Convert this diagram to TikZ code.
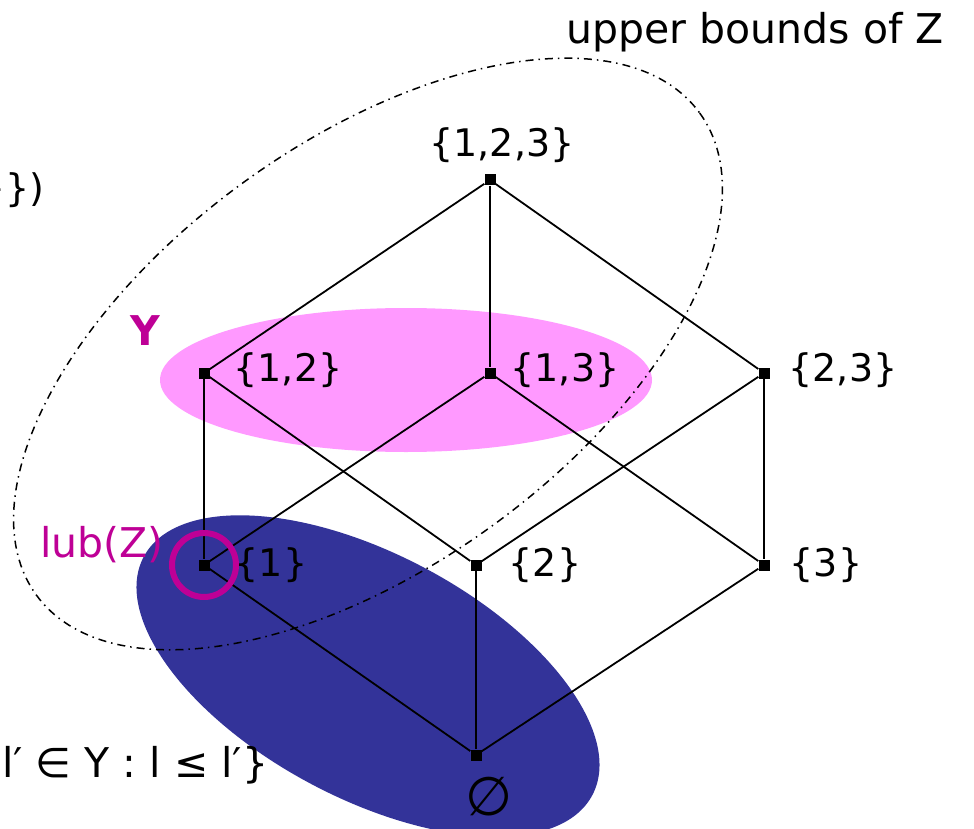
\documentclass[tikz,border=0pt]{standalone}
\usepackage{fontspec}
\setmainfont{DejaVu Sans}
\definecolor{ypink}{RGB}{255,153,255}
\definecolor{znavy}{RGB}{51,51,153}
\definecolor{lubmag}{RGB}{190,0,150}
\begin{document}
\begin{tikzpicture}[x=1pt, y=-1pt,
  elem/.style={fill=black, rectangle, minimum size=11pt, inner sep=0pt},
  setlbl/.style={font=\fontsize{38}{42}\selectfont, inner sep=0pt},
  wordlbl/.style={font=\fontsize{41}{46}\selectfont, inner sep=0pt},
  cover/.style={line width=1.8pt}]
  \useasboundingbox (0,0) rectangle (974,829);
  \clip (0,0) rectangle (974,829);

  % Y and the lower set
  \fill[ypink] (406,380) ellipse [x radius=246, y radius=72];
  \fill[znavy, rotate around={-28:(368,676)}] (368,676) ellipse [x radius=254, y radius=122];

  % upper bounds of Z
  \draw[line width=1.5pt, dash pattern=on 8pt off 5pt on 1.5pt off 5pt, rotate around={36:(368,354)}]
    (368,354) ellipse [x radius=410, y radius=212];

  % lattice elements
  \node[elem] (s123) at (490,180) {};
  \node[elem] (s12) at (204,373) {};
  \node[elem] (s13) at (490,373) {};
  \node[elem] (s23) at (764,373) {};
  \node[elem] (s1) at (204,565) {};
  \node[elem] (s2) at (476,565) {};
  \node[elem] (s3) at (764,565) {};
  \node[elem] (s0) at (476,755) {};

  \draw[cover] (s123) -- (s12);
  \draw[cover] (s123) -- (s13);
  \draw[cover] (s123) -- (s23);
  \draw[cover] (s12) -- (s1);
  \draw[cover] (s12) -- (s2);
  \draw[cover] (s13) -- (s1);
  \draw[cover] (s13) -- (s3);
  \draw[cover] (s23) -- (s2);
  \draw[cover] (s23) -- (s3);
  \draw[cover] (s1) -- (s0);
  \draw[cover] (s2) -- (s0);
  \draw[cover] (s3) -- (s0);

  % element labels
  \node[setlbl] (l123) at (502,145) {\{1,2,3\}};
  \node[setlbl] (l12) at (288,370) {\{1,2\}};
  \node[setlbl] (l13) at (565,370) {\{1,3\}};
  \node[setlbl] (l23) at (843,370) {\{2,3\}};
  \node[setlbl] (l1) at (271,565) {\{1\}};
  \node[setlbl] (l2) at (545,565) {\{2\}};
  \node[setlbl] (l3) at (826,565) {\{3\}};
  \node[setlbl, font=\fontsize{54}{58}\selectfont] (l0) at (489,797) {∅};

  % lub marker
  \draw[lubmag, line width=6pt] (s1) circle [radius=32];

  % annotations
  \node[wordlbl, text=lubmag, font=\fontsize{41}{46}\selectfont\bfseries] (ylbl) at (145,331) {Y};
  \node[wordlbl, text=lubmag] (lublbl) at (102,545) {lub(Z)};
  \node[wordlbl] (ublbl) at (755,32) {upper bounds of Z};
  \node[setlbl, anchor=west] (deflbl) at (-19,190) {\}\})};
  \node[wordlbl, anchor=west] (downlbl) at (2,765) {l′ ∈ Y : l ≤ l′\}};
\end{tikzpicture}
\end{document}
